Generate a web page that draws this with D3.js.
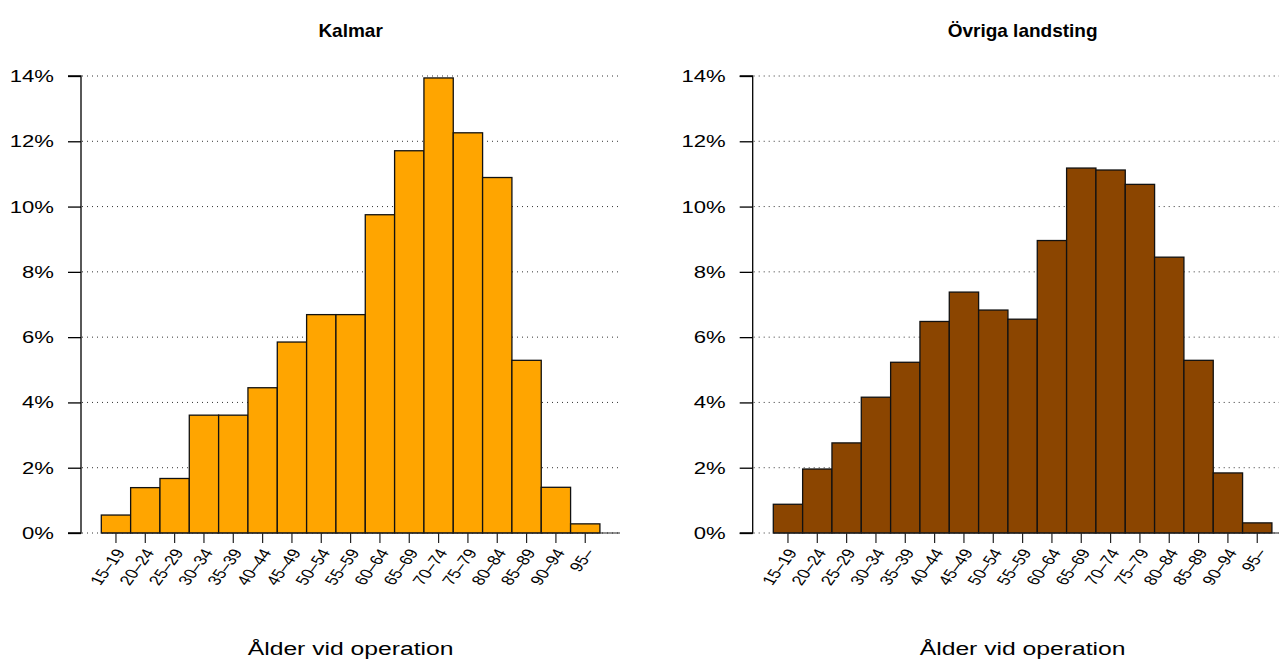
<!DOCTYPE html>
<html>
<head>
<meta charset="utf-8">
<script src="https://cdn.jsdelivr.net/npm/d3@7"></script>
<style>
  body { margin: 0; background: #fff; }
  text { font-family: "Liberation Sans", Arial, sans-serif; fill: #000; }
</style>
</head>
<body>
<svg id="chart" width="1279" height="660"></svg>
<script>
// age groups (x categories)
var ageGroups = ["15–19", "20–24", "25–29", "30–34", "35–39", "40–44", "45–49", "50–54",
                 "55–59", "60–64", "65–69", "70–74", "75–79", "80–84", "85–89", "90–94", "95–"];

// percent of operations per age group
var kalmarValues = [0.55, 1.39, 1.67, 3.61, 3.61, 4.45, 5.85, 6.69, 6.69, 9.75,
                    11.71, 13.94, 12.26, 10.89, 5.29, 1.40, 0.28];
var ovrigaValues = [0.88, 1.96, 2.76, 4.16, 5.23, 6.48, 7.38, 6.83, 6.55, 8.96,
                    11.18, 11.12, 10.68, 8.45, 5.29, 1.84, 0.31];

var yTicks = [0, 2, 4, 6, 8, 10, 12, 14];
var titles = ["Kalmar", "Övriga landsting"];
var xLabel = "Ålder vid operation";

var svg = d3.select("#chart");
var stretch = 1.3;   // text in the original is a bit wide

function drawPanel(opts) {
    var g = svg.append("g");

    var x = d3.scaleBand()
        .domain(ageGroups)
        .range([opts.barLeft, opts.barLeft + 29.33 * ageGroups.length])
        .paddingInner(0);

    var y = d3.scaleLinear()
        .domain([0, 14])
        .range([533, 76]);

    // dotted grid
    g.selectAll(".grid")
        .data(yTicks)
        .enter()
        .append("line")
        .attr("x1", opts.axisX + 1)
        .attr("x2", opts.right)
        .attr("y1", function(d){ return y(d); })
        .attr("y2", function(d){ return y(d); })
        .style("stroke", "#333")
        .style("stroke-width", 1)
        .style("stroke-dasharray", "1,4");

    // bars
    g.selectAll("rect")
        .data(opts.values)
        .enter()
        .append("rect")
        .attr("x", function(d, i){ return x(ageGroups[i]); })
        .attr("y", function(d){ return y(d); })
        .attr("width", x.bandwidth())
        .attr("height", function(d){ return y(0) - y(d); })
        .style("fill", opts.color)
        .style("stroke", "#111")
        .style("stroke-width", 1.3);

    // baseline
    g.append("line")
        .attr("x1", opts.barLeft)
        .attr("x2", opts.right)
        .attr("y1", y(0))
        .attr("y2", y(0))
        .style("stroke", "#222")
        .style("stroke-width", 1);

    // y axis: line + ticks from d3, labels drawn by hand so they can be widened
    var yAxis = d3.axisLeft(y)
        .tickValues(yTicks)
        .tickSize(13)
        .tickFormat("");
    var ya = g.append("g")
        .attr("transform", "translate(" + opts.axisX + ",0)")
        .call(yAxis);
    ya.select(".domain").attr("d", "M-13," + y(14) + "H0V" + y(0) + "H-13")
        .style("stroke", "#000").style("stroke-width", 1.3);
    ya.selectAll(".tick line").style("stroke", "#000").style("stroke-width", 1.3);

    g.selectAll(".ylab")
        .data(yTicks)
        .enter()
        .append("text")
        .attr("transform", function(d){
            return "translate(" + (opts.axisX - 27) + "," + y(d) + ") scale(" + stretch + ",1)";
        })
        .attr("dy", "0.35em")
        .style("text-anchor", "end")
        .style("font-size", "17px")
        .text(function(d){ return d + "%"; });

    // x ticks and rotated labels
    var xa = g.append("g");
    xa.selectAll("line")
        .data(ageGroups)
        .enter()
        .append("line")
        .attr("x1", function(d){ return x(d) + x.bandwidth() / 2; })
        .attr("x2", function(d){ return x(d) + x.bandwidth() / 2; })
        .attr("y1", y(0))
        .attr("y2", y(0) + 10)
        .style("stroke", "#222")
        .style("stroke-width", 1.2);
    xa.selectAll("text")
        .data(ageGroups)
        .enter()
        .append("text")
        .attr("transform", function(d){
            return "translate(" + (x(d) + x.bandwidth() / 2 + 4) + "," + (y(0) + 17) + ") scale(" + stretch + ",1) rotate(-60)";
        })
        .attr("dy", "0.35em")
        .style("text-anchor", "end")
        .style("font-size", "14px")
        .text(function(d){ return d; });

    var mid = (x.range()[0] + x.range()[1]) / 2;

    g.append("text")
        .attr("x", mid)
        .attr("y", 37)
        .style("text-anchor", "middle")
        .style("font-size", "19px")
        .style("font-weight", "bold")
        .text(opts.title);

    g.append("text")
        .attr("transform", "translate(" + mid + ",655) scale(" + stretch + ",1)")
        .style("text-anchor", "middle")
        .style("font-size", "19px")
        .text(xLabel);
}

drawPanel({values: kalmarValues, color: "#FFA500", title: titles[0],
           axisX: 81, barLeft: 101.3, right: 620});
drawPanel({values: ovrigaValues, color: "#8B4500", title: titles[1],
           axisX: 752.7, barLeft: 773.3, right: 1279});
</script>
</body>
</html>
